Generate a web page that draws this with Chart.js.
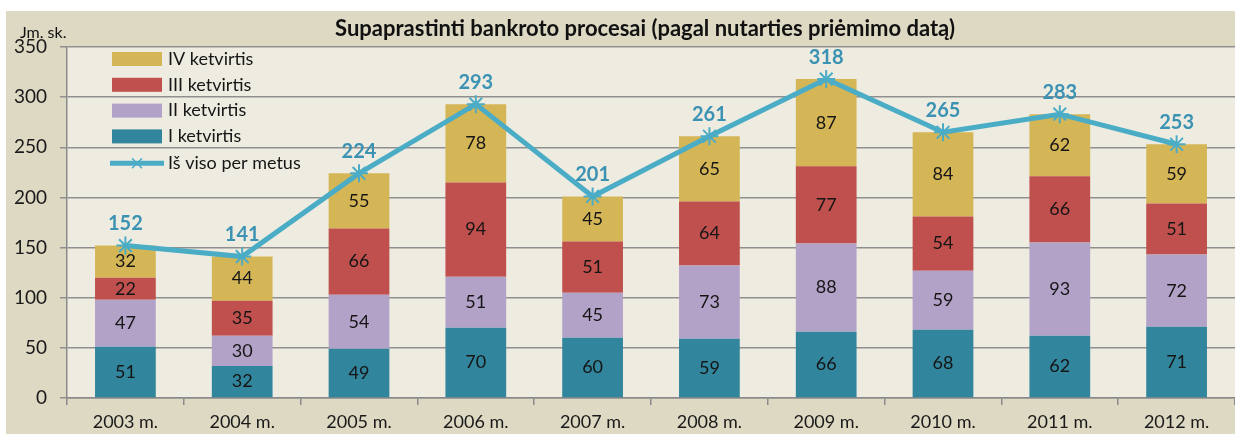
<!DOCTYPE html>
<html lang="lt">
<head>
  <meta charset="UTF-8">
  <title>Supaprastinti bankroto procesai</title>
  <script src="https://cdn.jsdelivr.net/npm/chart.js@4.4.1/dist/chart.umd.min.js"></script>
  <style>
    body { margin: 0; padding: 0; overflow: hidden; background: #fff; }
    canvas { display: block; }
  </style>
</head>
<body>
  <canvas id="chart" width="1235" height="434"></canvas>
  <script>
    const years = ['2003 m.', '2004 m.', '2005 m.', '2006 m.', '2007 m.', '2008 m.', '2009 m.', '2010 m.', '2011 m.', '2012 m.'];
    const q1 = [51, 32, 49, 70, 60, 59, 66, 68, 62, 71];
    const q2 = [47, 30, 54, 51, 45, 73, 88, 59, 93, 72];
    const q3 = [22, 35, 66, 94, 51, 64, 77, 54, 66, 51];
    const q4 = [32, 44, 55, 78, 45, 65, 87, 84, 62, 59];
    const totals = [152, 141, 224, 293, 201, 261, 318, 265, 283, 253];

    const titleText = 'Supaprastinti bankroto procesai (pagal nutarties priėmimo datą)';
    const unitText = 'Jm. sk.';
    const FONT = 'Lato, "Open Sans", sans-serif';

    // background, title, unit label, legend, value labels
    const decor = {
      id: 'decor',
      beforeDraw(chart) {
        const { ctx, chartArea: a } = chart;
        ctx.save();
        ctx.fillStyle = '#ddd9c3';
        ctx.fillRect(6, 11, chart.width - 6, chart.height - 11);
        ctx.fillStyle = '#eeece1';
        ctx.fillRect(a.left, a.top, a.right - a.left, a.bottom - a.top);
        ctx.restore();
      },
      afterDatasetsDraw(chart) {
        const { ctx } = chart;
        ctx.save();
        ctx.textAlign = 'center';
        ctx.textBaseline = 'middle';
        chart.data.datasets.forEach((ds, i) => {
          const meta = chart.getDatasetMeta(i);
          meta.data.forEach((el, j) => {
            if (ds.type === 'line') {
              ctx.font = 'bold 20px ' + FONT;
              ctx.fillStyle = '#3b92b3';
              ctx.fillText(ds.data[j], el.x, el.y - 22);
            } else {
              ctx.font = '18px ' + FONT;
              ctx.fillStyle = '#151515';
              ctx.fillText(ds.data[j], el.x, (el.y + el.base) / 2);
            }
          });
        });
        ctx.restore();
      },
      afterDraw(chart) {
        const { ctx, chartArea: a } = chart;
        ctx.save();
        // title
        ctx.fillStyle = '#111';
        ctx.textAlign = 'center';
        ctx.textBaseline = 'middle';
        ctx.font = 'bold 22px ' + FONT;
        ctx.fillText(titleText, 645, 29);
        ctx.font = '16px ' + FONT;
        ctx.textAlign = 'left';
        ctx.fillText(unitText, 20, 33);

        // legend inside plot area
        const bars = chart.data.datasets.filter(d => d.type !== 'line').slice().reverse();
        const line = chart.data.datasets.find(d => d.type === 'line');
        const bx = a.left + 45, rowH = 25.8;
        let y = a.top + 12;
        ctx.font = '18px ' + FONT;
        bars.forEach(ds => {
          ctx.fillStyle = ds.backgroundColor;
          ctx.fillRect(bx, y - 7, 50, 14);
          ctx.fillStyle = '#151515';
          ctx.fillText(ds.label, bx + 56, y);
          y += rowH;
        });
        y += 1;
        ctx.strokeStyle = line.borderColor;
        ctx.lineWidth = 5;
        ctx.beginPath();
        ctx.moveTo(bx - 2, y);
        ctx.lineTo(bx + 52, y);
        ctx.stroke();
        ctx.lineWidth = 1.5;
        ctx.beginPath();
        ctx.moveTo(bx + 20, y - 5); ctx.lineTo(bx + 30, y + 5);
        ctx.moveTo(bx + 30, y - 5); ctx.lineTo(bx + 20, y + 5);
        ctx.stroke();
        ctx.fillStyle = '#151515';
        ctx.fillText(line.label, bx + 56, y);
        ctx.restore();
      }
    };

    new Chart(document.getElementById('chart'), {
      data: {
        labels: years,
        datasets: [
          { type: 'line', label: 'Iš viso per metus', data: totals, order: 0, stack: 'total',
            borderColor: '#4bacc6', borderWidth: 5, pointStyle: 'star', pointRadius: 9,
            pointBorderWidth: 2, pointBorderColor: '#4bacc6', pointBackgroundColor: '#4bacc6' },
          { type: 'bar', label: 'I ketvirtis', data: q1, order: 1, backgroundColor: '#31859c' },
          { type: 'bar', label: 'II ketvirtis', data: q2, order: 1, backgroundColor: '#b3a2c8' },
          { type: 'bar', label: 'III ketvirtis', data: q3, order: 1, backgroundColor: '#c0504d' },
          { type: 'bar', label: 'IV ketvirtis', data: q4, order: 1, backgroundColor: '#d5b656' }
        ]
      },
      options: {
        responsive: false,
        animation: false,
        layout: { autoPadding: false, padding: { top: 47, left: 0, right: -5, bottom: 0 } },
        datasets: { bar: { categoryPercentage: 1, barPercentage: 0.52 } },
        plugins: { legend: { display: false }, title: { display: false }, tooltip: { enabled: false } },
        scales: {
          x: {
            stacked: true,
            grid: { display: true, drawOnChartArea: false, offset: true, tickLength: 7, color: '#8a8a8a', lineWidth: 1.5 },
            border: { color: '#8a8a8a', width: 1.5 },
            ticks: { font: { family: FONT, size: 18 }, color: '#1a1a1a', padding: 6, maxRotation: 0 },
            afterFit(s) { s.height = 36; }
          },
          y: {
            stacked: true,
            min: 0, max: 350,
            ticks: { stepSize: 50, font: { family: FONT, size: 19 }, color: '#1a1a1a', padding: 13 },
            grid: { color: '#8f8f8f', lineWidth: 1.5, tickLength: 7 },
            border: { color: '#8a8a8a', width: 1.5 },
            afterFit(s) { s.width = 67; }
          }
        }
      },
      plugins: [decor]
    });
  </script>
</body>
</html>
